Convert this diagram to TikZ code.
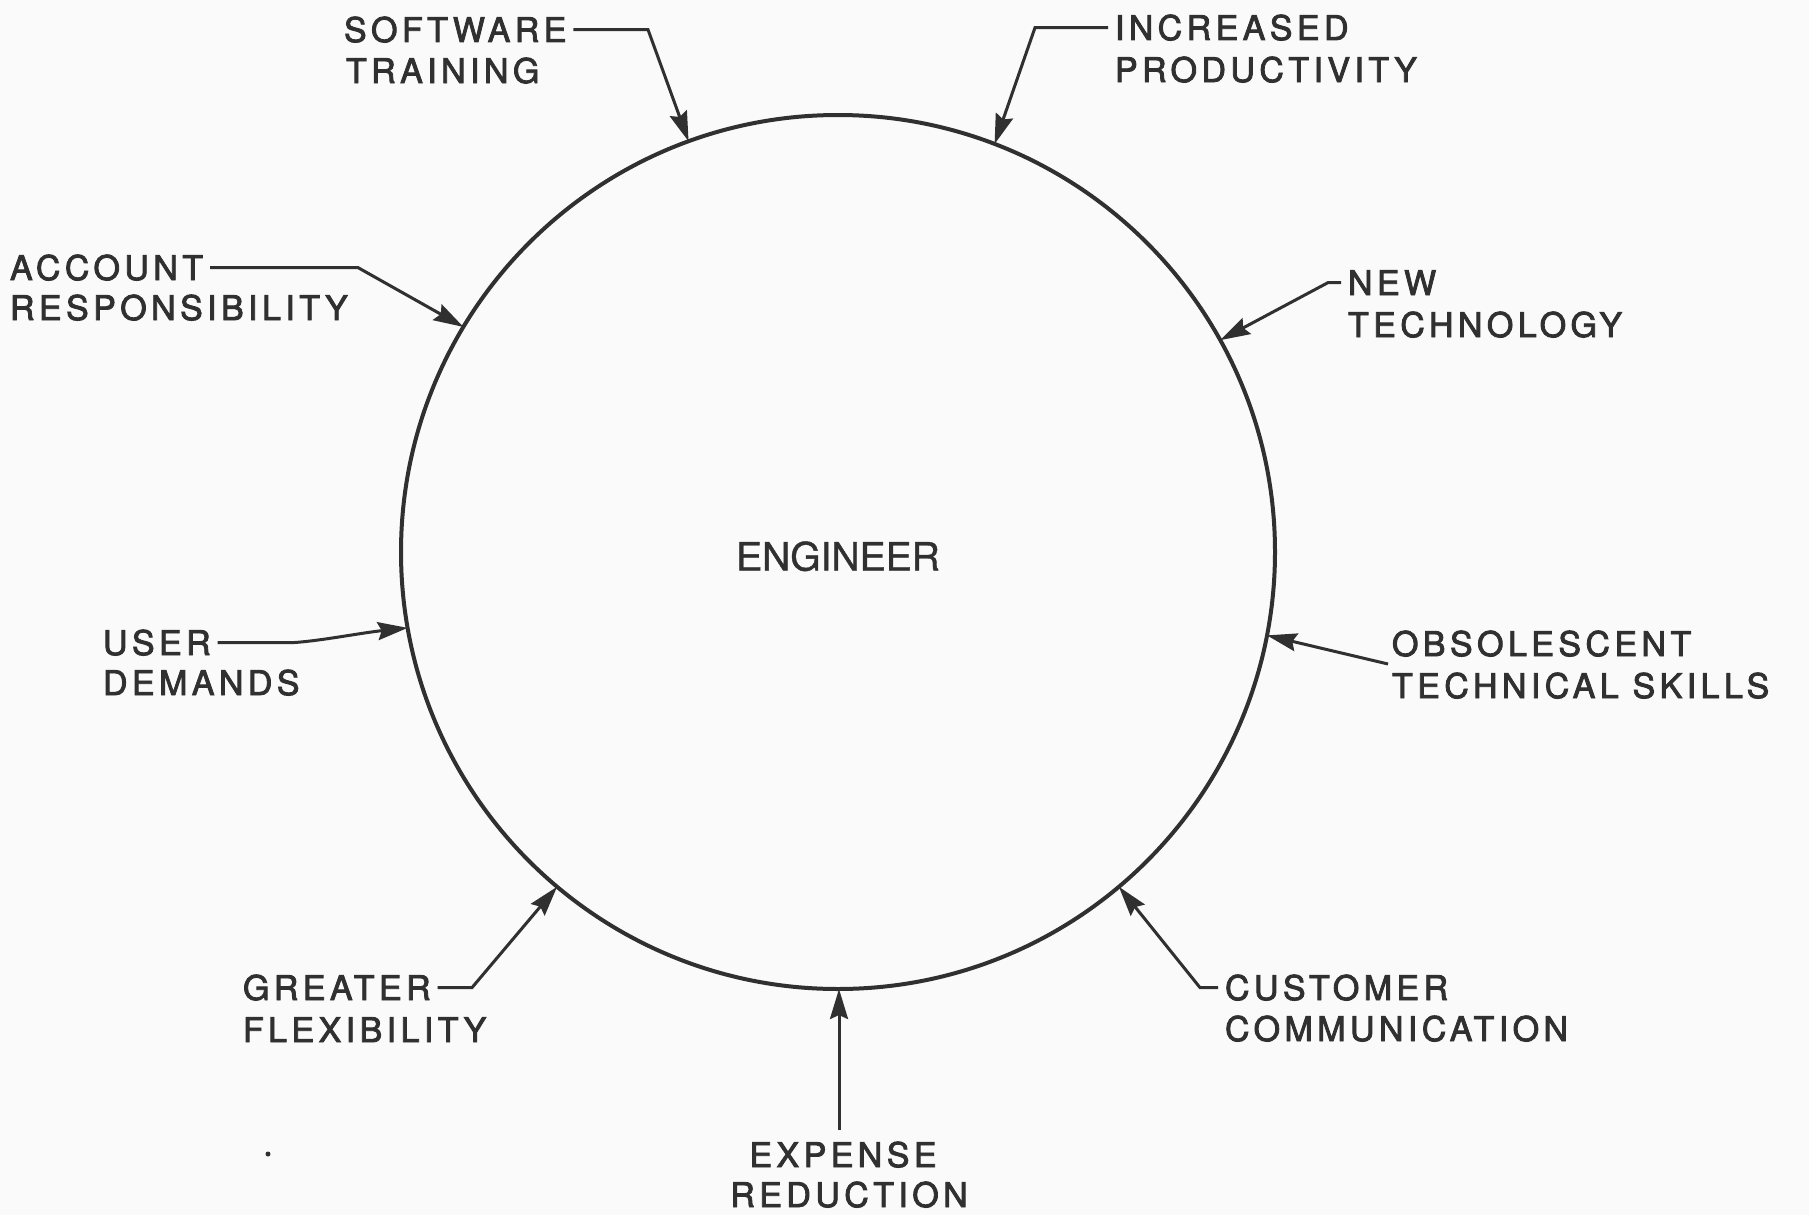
\documentclass[tikz,border=0pt]{standalone}
\usepackage{fontspec}
\setmainfont{TeX Gyre Heros}
\newfontfamily\lblfont[LetterSpace=13,FakeBold=2.5]{TeX Gyre Heros}
\newfontfamily\titlefont[FakeBold=1]{TeX Gyre Heros}
\usetikzlibrary{arrows.meta}
\definecolor{ink}{HTML}{303030}
\definecolor{paper}{HTML}{FAFAFA}
\begin{document}
\begin{tikzpicture}[x=1pt,y=-1pt,
  lbl/.style={anchor=base west, inner sep=0pt, outer sep=0pt,
    font=\lblfont\fontsize{34}{40}\selectfont, text=ink},
  lblc/.style={lbl, anchor=base},
  feed/.style={draw=ink, line width=3pt,
    -{Stealth[length=30pt,width=18pt,inset=4pt]}, shorten <=7pt},
  ]
\fill[paper] (0,0) rectangle (1809,1215);
\useasboundingbox (0,0) rectangle (1809,1215);

% central circle
\node[circle, draw=ink, line width=4pt, minimum size=874pt, inner sep=0pt,
  outer sep=0pt, font=\titlefont\fontsize{39}{44}\selectfont, text=ink,
  text height=37pt, text depth=0pt]
  (eng) at (838,552) {ENGINEER};

% labels around the circle
\node[lbl] (swA) at (344,42) {SOFTWARE};
\node[lbl] (swB) at (346,83) {TRAINING};
\node[lbl] (ipA) at (1115,40) {INCREASED};
\node[lbl] (ipB) at (1115,82) {PRODUCTIVITY};
\node[lbl] (arA) at (10,280) {ACCOUNT};
\node[lbl] (arB) at (10,320) {RESPONSIBILITY};
\node[lbl] (ntA) at (1348,295) {NEW};
\node[lbl] (ntB) at (1348,337) {TECHNOLOGY};
\node[lbl] (udA) at (103,655) {USER};
\node[lbl] (udB) at (103,695) {DEMANDS};
\node[lbl] (otA) at (1392,656) {OBSOLESCENT};
\node[lbl] (otB) at (1392,698) {TECHNICAL SKILLS};
\node[lbl] (gfA) at (243,1000) {GREATER};
\node[lbl] (gfB) at (243,1042) {FLEXIBILITY};
\node[lbl] (ccA) at (1225,1000) {CUSTOMER};
\node[lbl] (ccB) at (1225,1041) {COMMUNICATION};
\node[lblc] (erA) at (843,1167) {EXPENSE};
\node[lblc] (erB) at (849,1207) {REDUCTION};

% bend points of the leaders
\coordinate (swK) at (648,0);
\coordinate (ipK) at (1035,0);
\coordinate (arK) at (358,0);
\coordinate (ntK) at (1328,0);
\coordinate (udK) at (293,0);
\coordinate (otK) at (1388,664);
\coordinate (gfK) at (472,0);
\coordinate (ccK) at (1200,0);
\coordinate (erK) at (839,1130);

% leaders
\draw[feed] (swA.east) -- (swA.east -| swK) -- (eng.110);
\draw[feed] (ipA.west) -- (ipA.west -| ipK) -- (eng.69);
\draw[feed] (arA.east) -- (arA.east -| arK) -- (eng.149);
\draw[feed] (ntA.west) -- (ntA.west -| ntK) -- (eng.29);
\draw[feed] (udA.east) -- (udA.east -| udK) .. controls (320,641) and (360,633) .. (eng.190);
\draw[feed, shorten <=0pt] (otK) -- (eng.-11.5);
\draw[feed] (gfA.east) -- (gfA.east -| gfK) -- (eng.230.5);
\draw[feed] (ccA.west) -- (ccA.west -| ccK) -- (eng.-50.5);
\draw[feed, shorten <=0pt] (erK) -- (erK |- eng.south);

% stray dot
\fill[ink] (268,1154) circle (2.5);
\end{tikzpicture}
\end{document}
